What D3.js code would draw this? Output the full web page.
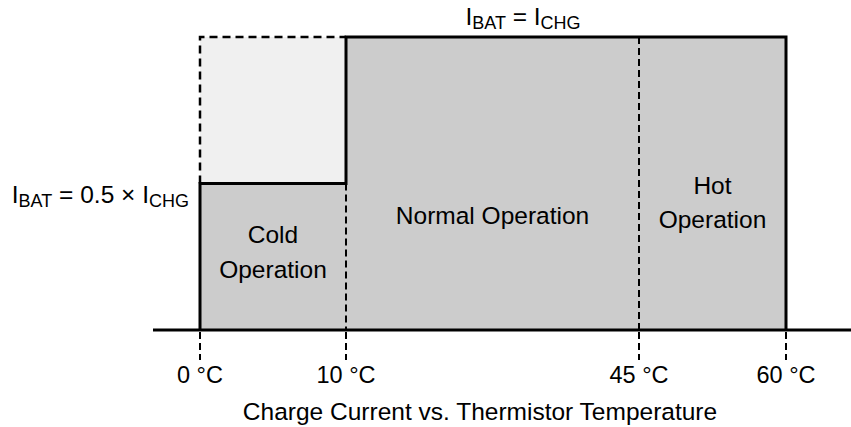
<!DOCTYPE html>
<html>
<head>
<meta charset="utf-8">
<script src="https://cdn.jsdelivr.net/npm/d3@7"></script>
<style>
  html, body { margin: 0; padding: 0; background: #fff; }
  svg { display: block; font-family: "Liberation Sans", Arial, sans-serif; }
</style>
</head>
<body>
<svg id="chart" width="851" height="427"></svg>
<script>
// ---- data ----
const temps = [0, 10, 45, 60];
const tickLabels = ["0 °C", "10 °C", "45 °C", "60 °C"];
const regionNames = [["Cold", "Operation"], ["Normal Operation"], ["Hot", "Operation"]];
const regionStart = [0, 10, 45];
const regionEnd = [10, 45, 60];
const regionCurrent = [0.5, 1, 1];
const fullCurrent = 1;
const title = "Charge Current vs. Thermistor Temperature";

// ---- scales ----
const x = d3.scaleLinear().domain(temps).range([200, 346, 639, 786]);
const y = d3.scaleLinear().domain([0, 1]).range([330, 37]);

const svg = d3.select("#chart");
const dashStyle = "7,4";

// light (reduced) area in cold region
svg.append("rect")
  .attr("x", x(regionStart[0])).attr("y", y(fullCurrent))
  .attr("width", x(regionEnd[0]) - x(regionStart[0]))
  .attr("height", y(regionCurrent[0]) - y(fullCurrent))
  .attr("fill", "#f0f0f0");

// dashed outline of full current in cold region
svg.append("path")
  .attr("d", d3.line()([[x(0), y(regionCurrent[0])], [x(0), y(fullCurrent)], [x(10), y(fullCurrent)]]))
  .attr("fill", "none").attr("stroke", "#000").attr("stroke-width", 2.5)
  .attr("stroke-dasharray", "8,5");

// step area of charge current
const pts = [[x(temps[0]), y(0)]];
regionCurrent.forEach((c, i) => {
  pts.push([x(regionStart[i]), y(c)]);
  pts.push([x(regionEnd[i]), y(c)]);
});
pts.push([x(temps[temps.length - 1]), y(0)]);
svg.append("path")
  .attr("d", d3.line()(pts))
  .attr("fill", "#cccccc").attr("stroke", "none");

// internal dashed separators
[1, 2].forEach(i => {
  const t = regionStart[i];
  const lowTop = Math.max(y(regionCurrent[i]), y(regionCurrent[i - 1]));
  svg.append("line")
    .attr("x1", x(t)).attr("x2", x(t))
    .attr("y1", lowTop).attr("y2", y(0))
    .attr("stroke", "#000").attr("stroke-width", 2)
    .attr("stroke-dasharray", dashStyle);
});

// outline of step
svg.append("path")
  .attr("d", d3.line()(pts))
  .attr("fill", "none").attr("stroke", "#000").attr("stroke-width", 3)
  .attr("stroke-linejoin", "miter");

// baseline axis
svg.append("line")
  .attr("x1", 153).attr("x2", 851)
  .attr("y1", y(0)).attr("y2", y(0))
  .attr("stroke", "#000").attr("stroke-width", 3);

// tick dashed lines below axis
svg.selectAll(".tickline").data(temps).enter().append("line")
  .attr("x1", d => x(d)).attr("x2", d => x(d))
  .attr("y1", y(0) + 2).attr("y2", y(0) + 30)
  .attr("stroke", "#000").attr("stroke-width", 2)
  .attr("stroke-dasharray", dashStyle);

// tick labels
svg.selectAll(".ticklabel").data(temps).enter().append("text")
  .attr("x", d => x(d)).attr("y", 383)
  .attr("text-anchor", "middle")
  .attr("font-size", 23.5)
  .attr("fill", "#000")
  .text((d, i) => tickLabels[i]);

// region labels
const regionY = [[243, 278], [224], [194, 228]];
regionNames.forEach((lines, i) => {
  const cx = (x(regionStart[i]) + x(regionEnd[i])) / 2;
  lines.forEach((ln, j) => {
    svg.append("text")
      .attr("x", cx).attr("y", regionY[i][j])
      .attr("text-anchor", "middle")
      .attr("font-size", 24.5).attr("fill", "#000")
      .text(ln);
  });
});

// current labels with subscripts
function currentLabel(parts, xPos, yPos, anchor) {
  const t = svg.append("text")
    .attr("x", xPos).attr("y", yPos)
    .attr("text-anchor", anchor)
    .attr("font-size", 24.5).attr("fill", "#000");
  parts.forEach(p => {
    const ts = t.append("tspan").text(p.t);
    if (p.sub) ts.attr("font-size", 18).attr("dy", 4);
    else if (p.after) ts.attr("dy", -4);
  });
}
currentLabel([{t: "I"}, {t: "BAT", sub: true}, {t: " = I", after: true}, {t: "CHG", sub: true}], 523, 25, "middle");
currentLabel([{t: "I"}, {t: "BAT", sub: true}, {t: " = 0.5 × I", after: true}, {t: "CHG", sub: true}], 189, 203, "end");

// title
svg.append("text")
  .attr("x", 480).attr("y", 420)
  .attr("text-anchor", "middle")
  .attr("font-size", 24.5).attr("fill", "#000")
  .text(title);
</script>
</body>
</html>
